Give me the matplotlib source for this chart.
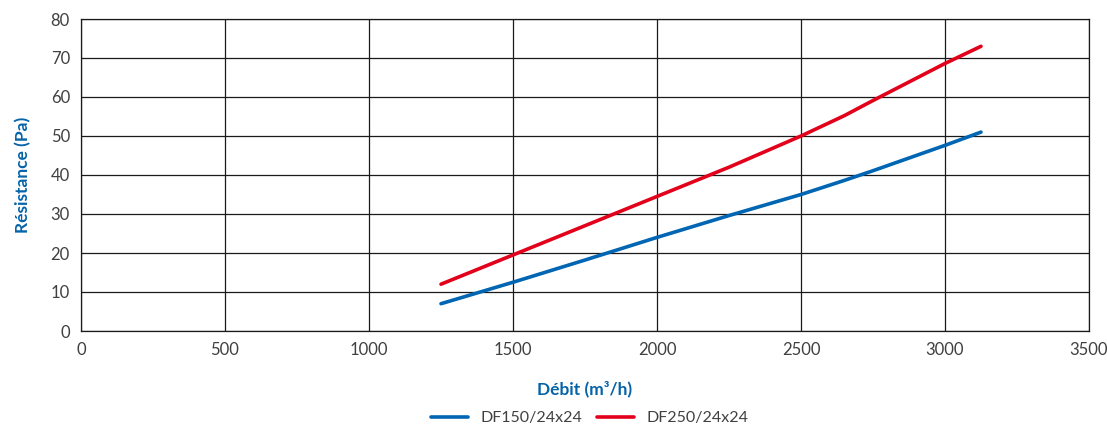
import matplotlib
matplotlib.use("Agg")
import matplotlib.pyplot as plt

plt.rcParams['font.family'] = ['Lato', 'DejaVu Sans']

debit = [1250, 1500, 1750, 2000, 2250, 2500, 2650, 2750, 3000, 3125]
df150 = [7, 12.5, 18.2, 24, 29.6, 35, 38.6, 41.1, 47.6, 51]
df250 = [12, 19.5, 27, 34.5, 42, 50, 55.2, 59.1, 68.6, 73]
xticks = [0, 500, 1000, 1500, 2000, 2500, 3000, 3500]
yticks = [0, 10, 20, 30, 40, 50, 60, 70, 80]

fig = plt.figure(figsize=(11.07, 4.28), dpi=100)
ax = fig.add_axes([81/1107, 1 - 331/428, (1089-81)/1107, (331-19)/428])

ax.plot(debit, df150, color='#0066B3', lw=2.6, label='DF150/24x24', solid_capstyle='round')
ax.plot(debit, df250, color='#E2001A', lw=2.6, label='DF250/24x24', solid_capstyle='round')

ax.set_xlim(0, 3500)
ax.set_ylim(0, 80)
ax.set_xticks(xticks)
ax.set_yticks(yticks)
ax.grid(True, color='#1a1a1a', lw=0.9)
ax.set_axisbelow(True)
for s in ax.spines.values():
    s.set_color('#1a1a1a')
    s.set_linewidth(0.9)
ax.tick_params(length=0, labelsize=12, labelcolor='#404040', pad=8)

ax.set_xlabel('Débit (m³/h)', color='#0563A8', fontsize=12.5, fontweight='bold', labelpad=16)
ax.set_ylabel('Résistance (Pa)', color='#0563A8', fontsize=12.5, fontweight='bold', labelpad=14)

leg = fig.legend(loc='center', bbox_to_anchor=(590/1107, 1 - 418/428), ncol=2, frameon=False,
                 fontsize=11.5, handlelength=2.3, columnspacing=0.9, handletextpad=0.8)
for t in leg.get_texts():
    t.set_color('#404040')

fig.savefig('out.png', dpi=100)
